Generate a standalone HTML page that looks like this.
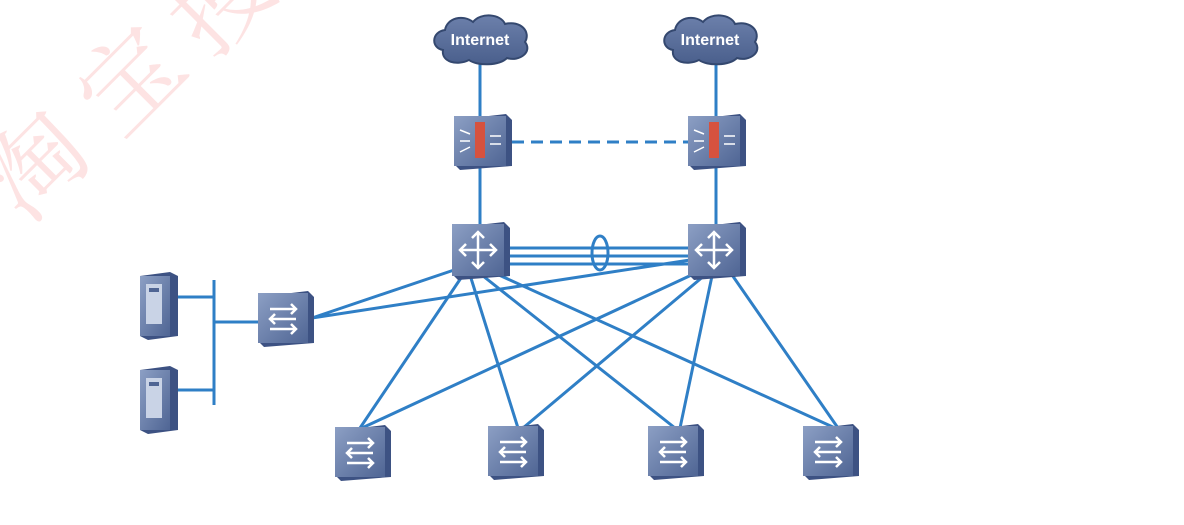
<!DOCTYPE html>
<html><head><meta charset="utf-8"><style>
body{margin:0;background:#fff;width:1184px;height:525px;overflow:hidden;position:relative;font-family:"Liberation Sans",sans-serif}
.c{position:absolute;width:110px;height:110px;line-height:110px;text-align:center;transform:rotate(-45deg);font-family:"Noto Serif CJK SC",serif;font-size:100px;color:#fde3e3}
svg{position:absolute;left:0;top:0}
</style></head><body>
<div class="c" style="left:-25px;top:105px">淘</div>
<div class="c" style="left:70px;top:20px">宝</div>
<div class="c" style="left:160px;top:-60px">搜</div>
<svg width="1184" height="525" viewBox="0 0 1184 525">
<defs>
<linearGradient id="box" x1="0" y1="0" x2="1" y2="1"><stop offset="0" stop-color="#8c9fc4"/><stop offset="1" stop-color="#4f6594"/></linearGradient>
<linearGradient id="cl" x1="0" y1="0" x2="0" y2="1"><stop offset="0" stop-color="#6c80ab"/><stop offset="1" stop-color="#4a5f8c"/></linearGradient>
<g id="sw"><path d="M0 6 L50 0 L56 6 L56 52 L6 56 L0 50Z" fill="#3d5283"/><rect x="0" y="2" width="50" height="50" fill="url(#box)"/>
<g stroke="#fff" stroke-width="2.5" fill="none"><path d="M12 18 H38 M33 13 L38 18 L33 23"/><path d="M38 28 H12 M17 23 L12 28 L17 33"/><path d="M12 38 H38 M33 33 L38 38 L33 43"/></g></g>
<g id="core"><path d="M0 6 L52 0 L58 6 L58 54 L6 58 L0 52Z" fill="#3d5283"/><rect x="0" y="2" width="52" height="52" fill="url(#box)"/>
<g stroke="#fff" stroke-width="2.5" fill="none"><path d="M26 10 V46 M8 28 H44 M20 16 L26 10 L32 16 M20 40 L26 46 L32 40 M14 22 L8 28 L14 34 M38 22 L44 28 L38 34"/></g></g>
<g id="fw"><path d="M0 6 L52 0 L58 6 L58 52 L6 56 L0 50Z" fill="#3d5283"/><rect x="0" y="2" width="52" height="50" fill="url(#box)"/>
<rect x="21" y="8" width="10" height="36" fill="#d6523f"/>
<g stroke="#fff" stroke-width="1.5"><path d="M6 16 L16 20 M6 27 H16 M6 38 L16 33 M36 22 H47 M36 30 H47"/></g></g>
<g id="srv"><path d="M0 4 L30 0 L38 4 L38 64 L8 68 L0 64Z" fill="#3d5283"/><rect x="0" y="4" width="30" height="60" fill="url(#box)"/>
<rect x="6" y="12" width="16" height="40" fill="#c9d3e6"/><rect x="9" y="16" width="10" height="4" fill="#4f6594"/></g>
<g id="cloud"><path d="M10 38 C-2 36 -2 20 12 18 C14 6 30 2 40 10 C48 0 68 2 72 12 C88 8 98 20 92 30 C100 40 86 50 74 46 C66 54 44 54 36 48 C24 54 8 50 10 38Z" fill="url(#cl)" stroke="#34486f" stroke-width="2"/></g>
</defs>
<g stroke="#2f7fc6" stroke-width="3" fill="none">
<path d="M480 60 V118 M716 60 V118 M480 168 V225 M716 168 V225"/>
<path d="M512 142 H690" stroke-dasharray="12 7"/>
<path d="M510 248 H690 M510 256 H690 M510 264 H690"/>
<path d="M312 318 L460 268 M312 318 L690 260 M214 280 V405 M178 297 H214 M178 390 H214 M214 322 H258"/>
<path d="M465 272 L360 428 M470 275 L518 428 M478 272 L675 428 M488 270 L835 428"/>
<path d="M698 272 L362 428 M705 275 L523 428 M712 276 L680 428 M730 272 L838 428"/>
</g>
<ellipse cx="600" cy="253" rx="8" ry="17" fill="none" stroke="#2f7fc6" stroke-width="3"/>
<use href="#cloud" x="433" y="12"/><use href="#cloud" x="663" y="12"/>
<text x="480" y="45" fill="#fff" font-size="16" font-weight="bold" text-anchor="middle" font-family="Liberation Sans">Internet</text>
<text x="710" y="45" fill="#fff" font-size="16" font-weight="bold" text-anchor="middle" font-family="Liberation Sans">Internet</text>
<use href="#fw" x="454" y="114"/><use href="#fw" x="688" y="114"/>
<use href="#core" x="452" y="222"/><use href="#core" x="688" y="222"/>
<use href="#sw" x="258" y="291"/>
<use href="#sw" x="335" y="425"/><use href="#sw" x="488" y="424"/><use href="#sw" x="648" y="424"/><use href="#sw" x="803" y="424"/>
<use href="#srv" x="140" y="272"/><use href="#srv" x="140" y="366"/>
</svg>
</body></html>
